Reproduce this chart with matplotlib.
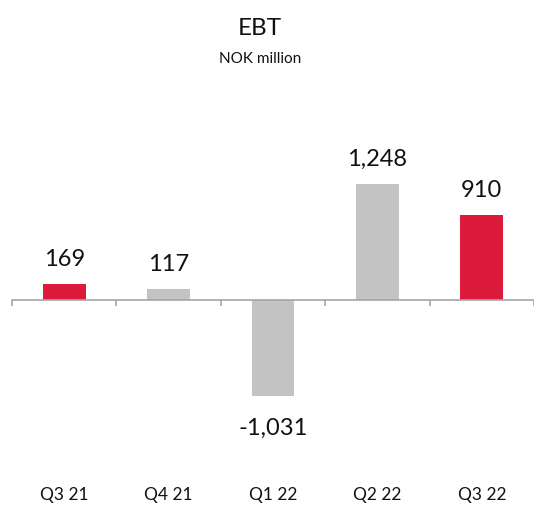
import matplotlib
matplotlib.use("Agg")
import matplotlib.pyplot as plt
import matplotlib.transforms as mtransforms

plt.rcParams['font.family'] = ['Lato', 'DejaVu Sans']

categories = ["Q3 21", "Q4 21", "Q1 22", "Q2 22", "Q3 22"]
values = [169, 117, -1031, 1248, 910]
labels = ["169", "117", "-1,031", "1,248", "910"]
highlight = [True, False, False, False, True]

RED = "#DC1A3C"
GRAY = "#C3C3C3"
AXIS = "#A6A6A6"

fig = plt.figure(figsize=(5.34, 5.05), dpi=100)
ax = fig.add_axes([12/534, 45/505, 1 - 12/534, 360/505])

x = list(range(len(categories)))
colors = [RED if h else GRAY for h in highlight]
ax.bar(x, values, width=0.41, color=colors, zorder=2)

ax.set_xlim(-0.5, len(categories) - 0.5)
ax.set_ylim(-1720, 2150)

for s in ['top', 'right', 'left']:
    ax.spines[s].set_visible(False)
ax.spines['bottom'].set_position(('data', 0))
ax.spines['bottom'].set_color(AXIS)
ax.spines['bottom'].set_linewidth(1.2)
ax.set_yticks([])
ax.set_xticks([i - 0.5 for i in range(len(categories) + 1)])
ax.set_xticklabels([])
ax.tick_params(axis='x', direction='out', length=4.5, width=1.2, color=AXIS)

for xi, v, lab in zip(x, values, labels):
    if v >= 0:
        ax.annotate(lab, (xi, v), xytext=(0, 13), textcoords='offset points',
                    ha='center', va='baseline', fontsize=17, color='#111111')
    else:
        ax.annotate(lab, (xi, v), xytext=(0, -28), textcoords='offset points',
                    ha='center', va='baseline', fontsize=17, color='#111111')

trans = mtransforms.blended_transform_factory(ax.transData, fig.transFigure)
for xi, c in zip(x, categories):
    ax.text(xi, 5/505, c, transform=trans, ha='center', va='baseline',
            fontsize=12.5, color='#111111')

fig.text(260/534, 470/505, "EBT", ha='center', va='baseline', fontsize=17.5, color='#111111')
fig.text(260/534, 442/505, "NOK million", ha='center', va='baseline', fontsize=11, color='#111111')

fig.savefig("out.png", dpi=100)
